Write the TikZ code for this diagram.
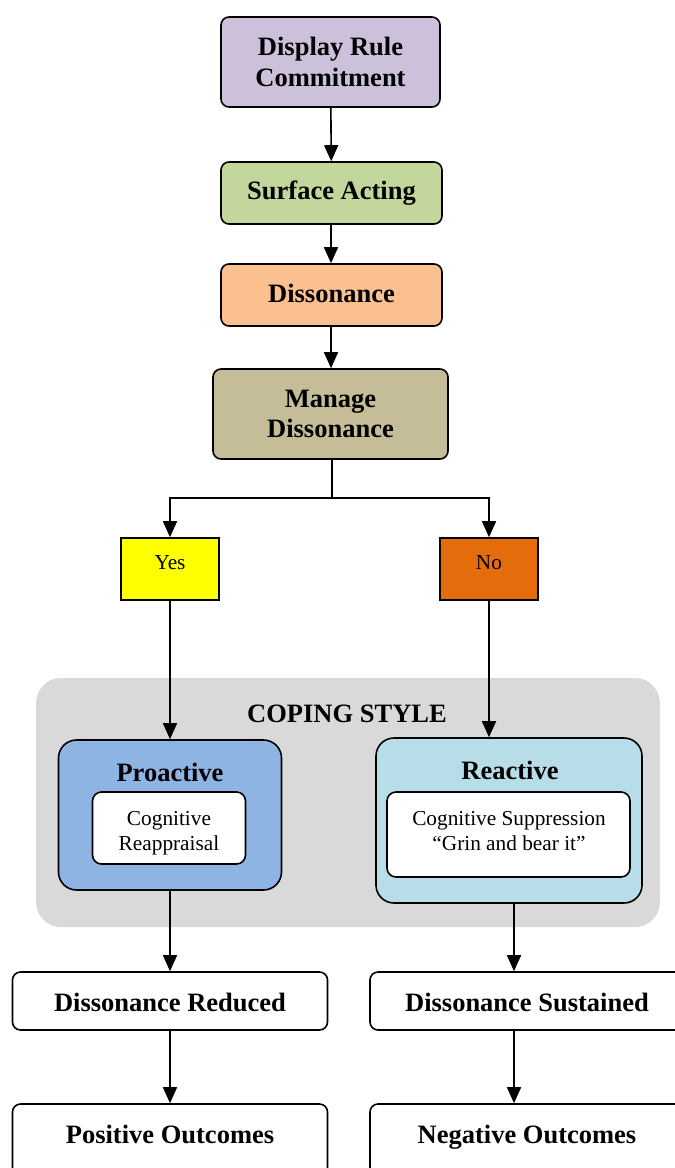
\documentclass[tikz,border=0pt]{standalone}
\usepackage{fontspec}
\setmainfont{Liberation Serif}
\usetikzlibrary{arrows.meta}
\definecolor{cdrc}{HTML}{CCC0DA}
\definecolor{csa}{HTML}{C3D69B}
\definecolor{cdis}{HTML}{FAC090}
\definecolor{cmd}{HTML}{C4BD97}
\definecolor{cyes}{HTML}{FFFF00}
\definecolor{cno}{HTML}{E46C0A}
\definecolor{cgrey}{HTML}{D9D9D9}
\definecolor{cpro}{HTML}{8EB4E3}
\definecolor{crea}{HTML}{B7DEE8}
\tikzset{
  bx/.style={draw, line width=1.6pt, rounded corners=8pt, align=center, inner sep=0pt,
    font=\bfseries\fontsize{26.5}{30.5}\selectfont},
  sq/.style={draw, line width=1.6pt, inner sep=0pt, font=\fontsize{21.3}{25}\selectfont},
  bigbox/.style={draw, line width=1.6pt, rounded corners=18pt, inner sep=0pt},
  inbox/.style={draw, line width=1.6pt, rounded corners=9pt, fill=white, inner sep=0pt},
  intxt/.style={align=center, inner sep=0pt, font=\fontsize{21.3}{25}\selectfont},
  ttl/.style={font=\bfseries\fontsize{26.5}{30}\selectfont, inner sep=0pt, text height=18pt, text depth=0pt},
  arr/.style={line width=1.6pt, -{Triangle[length=16pt,width=14pt]}},
  ln/.style={line width=1.6pt},
}
\begin{document}
\begin{tikzpicture}[x=1pt,y=-1pt]
\useasboundingbox (0,0) rectangle (675,1168);
\clip (0,0) rectangle (675,1168);
% nodes
\node[bx, fill=cdrc, minimum width=219pt, minimum height=90pt] (drc) at (330.5,62) {Display Rule\\Commitment};
\node[bx, fill=csa, minimum width=221pt, minimum height=62pt] (sa) at (331.5,193) {Surface Acting};
\node[bx, fill=cdis, minimum width=221pt, minimum height=62pt] (dis) at (331.5,295) {\raisebox{3pt}{Dissonance}};
\node[bx, fill=cmd, minimum width=235pt, minimum height=90pt] (md) at (330.5,414) {Manage\\Dissonance};
\node[sq, fill=cyes, minimum width=98pt, minimum height=62pt] (yes) at (170,569) {\raisebox{13pt}{Yes}};
\node[sq, fill=cno, minimum width=98pt, minimum height=62pt] (no) at (489,569) {\raisebox{13pt}{No}};
% coping style group
\node[fill=cgrey, rounded corners=25pt, minimum width=624pt, minimum height=249pt, inner sep=0pt] (coping) at (348,802.5) {};
\node[ttl] (copingttl) at (347,713) {COPING STYLE};
\node[bigbox, fill=cpro, minimum width=223pt, minimum height=150pt] (pro) at (170,815) {};
\node[ttl] (prottl) at (170,772) {Proactive};
\node[inbox, minimum width=153pt, minimum height=72pt] (proin) at (169,828) {};
\node[intxt] (prointxt) at (169,833) {Cognitive\\Reappraisal};
\node[bigbox, fill=crea, minimum width=266pt, minimum height=165pt] (rea) at (509,820.5) {};
\node[ttl] (reattl) at (510,770) {Reactive};
\node[inbox, minimum width=243pt, minimum height=85pt] (reain) at (508.5,834.5) {};
\node[intxt] (reaintxt) at (509,831) {Cognitive Suppression\\“Grin and bear it”};
% outcomes
\node[bx, minimum width=315pt, minimum height=58pt] (dr) at (170,1001) {};
\node[ttl] (drttl) at (170,1002) {Dissonance Reduced};
\node[bx, minimum width=320pt, minimum height=58pt] (ds) at (530,1001) {};
\node[ttl] (dsttl) at (527,1002) {Dissonance Sustained};
\node[bx, minimum width=315pt, minimum height=76pt] (po) at (170,1142) {};
\node[ttl] (pottl) at (170,1134) {Positive Outcomes};
\node[bx, minimum width=320pt, minimum height=76pt] (ne) at (530,1142) {};
\node[ttl] (nettl) at (527,1134) {Negative Outcomes};
% connectors
\draw[arr] (drc) -- (sa);
\draw[arr] ([xshift=-0.5pt]sa.south) -- ([xshift=-0.5pt]dis.north);
\draw[arr] ([xshift=-0.5pt]dis.south) -- ([xshift=-0.5pt]dis.south |- md.north);
\coordinate (split) at ([xshift=1.5pt,yshift=-38pt]md.south);
\draw[ln] ([xshift=1.5pt]md.south) -- (split);
\draw[arr] (split) -| (yes.north);
\draw[arr] (split) -| (no.north);
\draw[arr] (yes.south) -- (yes.south |- pro.north);
\draw[arr] (no.south) -- (no.south |- rea.north);
\draw[arr] (pro.south) -- (pro.south |- dr.north);
\draw[arr] ([xshift=5pt]rea.south) -- ([xshift=5pt]rea.south |- ds.north);
\draw[arr] (dr.south) -- (po.north);
\draw[arr] ([xshift=-16pt]ds.south) -- ([xshift=-16pt]ne.north);
\end{tikzpicture}
\end{document}
